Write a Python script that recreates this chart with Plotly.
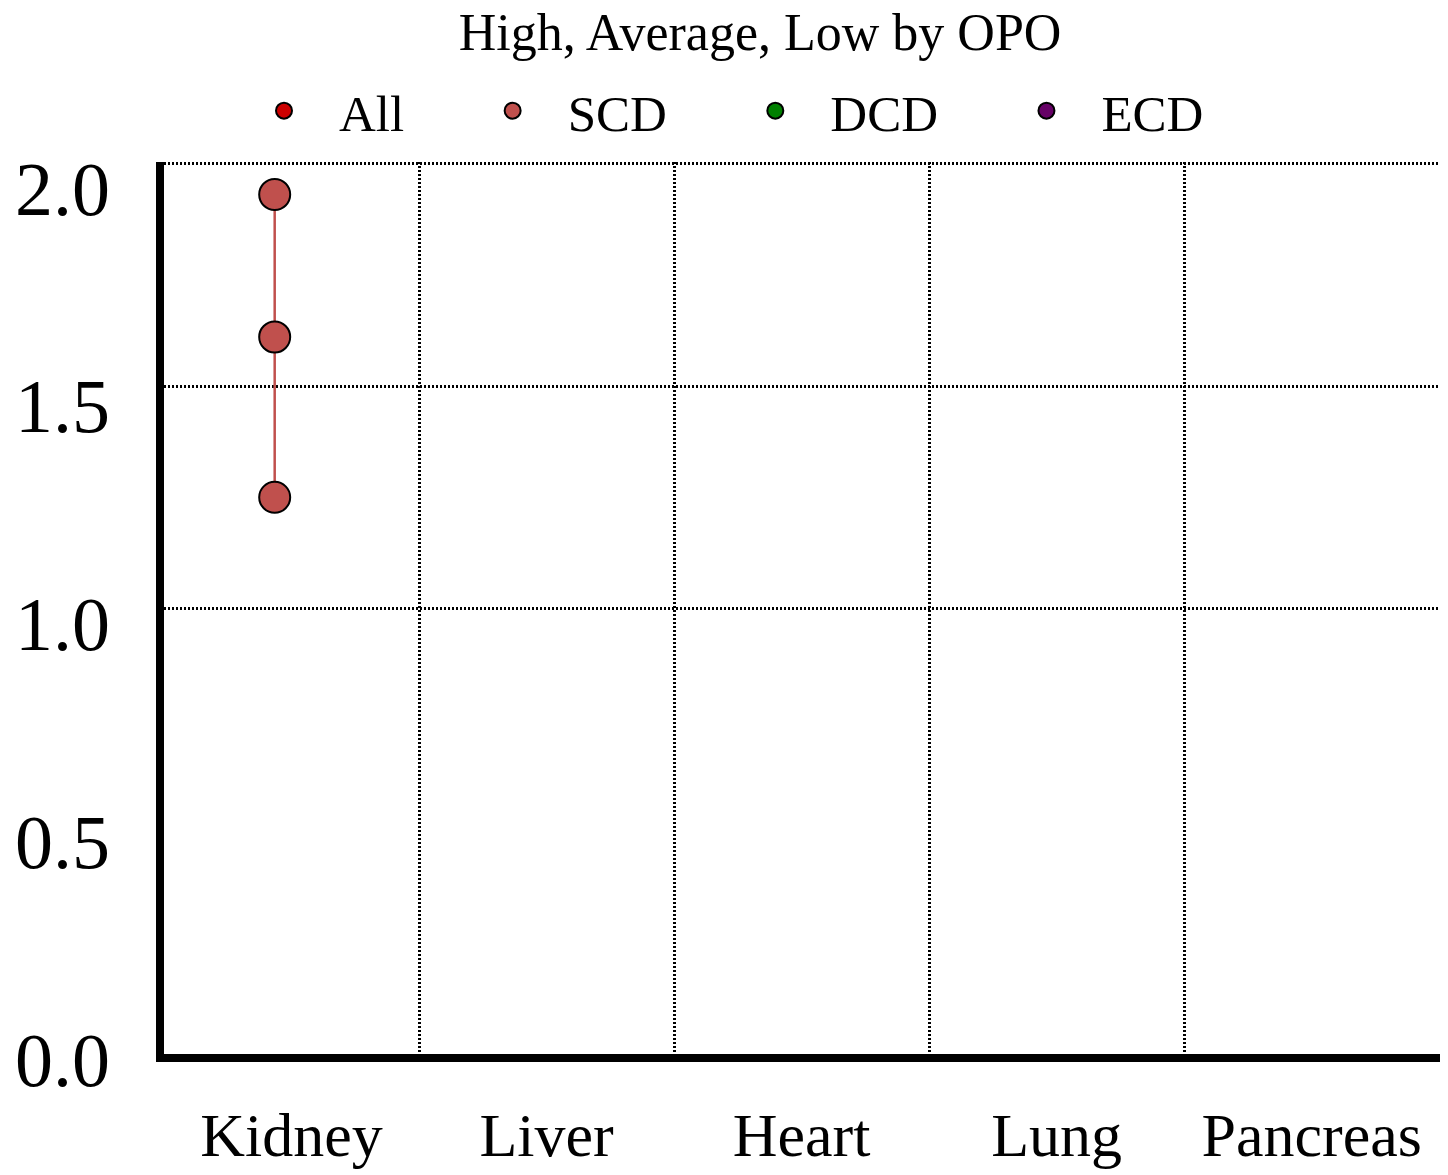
import plotly.graph_objects as go

# ---------------- data ----------------
CATEGORIES = ["Kidney", "Liver", "Heart", "Lung", "Pancreas"]
SERIES = ["All", "SCD", "DCD", "ECD"]

ALL_HIGH = [None, None, None, None, None]
ALL_AVG = [None, None, None, None, None]
ALL_LOW = [None, None, None, None, None]

SCD_HIGH = [1.93, None, None, None, None]
SCD_AVG = [1.61, None, None, None, None]
SCD_LOW = [1.25, None, None, None, None]

DCD_HIGH = [None, None, None, None, None]
DCD_AVG = [None, None, None, None, None]
DCD_LOW = [None, None, None, None, None]

ECD_HIGH = [None, None, None, None, None]
ECD_AVG = [None, None, None, None, None]
ECD_LOW = [None, None, None, None, None]

Y_TICKS = [0.0, 0.5, 1.0, 1.5, 2.0]
Y_GRID = [1.0, 1.5, 2.0]

# ---------------- styles ----------------
COLORS = {"All": "#CC0000", "SCD": "#C0504D", "DCD": "#008000", "ECD": "#660066"}
OFFSETS = {"All": -0.066, "SCD": -0.066, "DCD": -0.066, "ECD": -0.066}
LEGEND_PAD = "\u00a0" * 3 + "\u2009"
FONT = "Liberation Serif, Times New Roman, serif"

W, H = 1440, 1167          # page body has an 8px margin
M_L, M_R, M_T, M_B = 156, 8, 154, 121
PLOT_H = H - M_T - M_B
LABEL_SCALE = 435.5        # px per unit for the tick-label axis

series_data = {
    "All": (ALL_HIGH, ALL_AVG, ALL_LOW),
    "SCD": (SCD_HIGH, SCD_AVG, SCD_LOW),
    "DCD": (DCD_HIGH, DCD_AVG, DCD_LOW),
    "ECD": (ECD_HIGH, ECD_AVG, ECD_LOW),
}

fig = go.Figure()
for name in SERIES:
    hi, av, lo = series_data[name]
    xs, ys = [], []
    for i, _ in enumerate(CATEGORIES):
        if hi[i] is None and av[i] is None and lo[i] is None:
            continue
        for v in (hi[i], av[i], lo[i]):
            xs.append(i + OFFSETS[name])
            ys.append(v)
        xs.append(None)
        ys.append(None)
    if xs:
        fig.add_trace(go.Scatter(
            x=xs, y=ys, name=name, mode="lines+markers", legendgroup=name,
            line=dict(color=COLORS[name], width=2.5),
            marker=dict(size=31, color=COLORS[name], line=dict(color="black", width=2)),
            showlegend=False,
        ))
    # legend entry (marker only)
    fig.add_trace(go.Scatter(
        x=[None], y=[None], name=name + LEGEND_PAD, mode="markers", legendgroup=name,
        marker=dict(size=31, color=COLORS[name], line=dict(color="black", width=2)),
        showlegend=True,
    ))

# invisible trace to carry the label axis
fig.add_trace(go.Scatter(x=[None], y=[None], yaxis="y2", showlegend=False, hoverinfo="skip"))

fig.update_layout(
    width=W, height=H,
    margin=dict(l=M_L, r=M_R, t=M_T, b=M_B, autoexpand=False),
    paper_bgcolor="white", plot_bgcolor="white",
    font=dict(family=FONT, color="black"),
    title=dict(text="High, Average, Low by OPO", x=752 / W, xref="container",
               y=1 - 24 / H, yref="container", xanchor="center", yanchor="middle",
               font=dict(size=52, family=FONT, color="black")),
    legend=dict(orientation="h", x=735 / W, xref="container", xanchor="center",
                y=1 - 103 / H, yref="container", yanchor="middle",
                font=dict(size=51, family=FONT, color="black"),
                itemsizing="trace", itemwidth=100, bgcolor="rgba(0,0,0,0)"),
    showlegend=True,
    xaxis=dict(range=[-0.5, 4.503], tickmode="array", tickvals=list(range(len(CATEGORIES))),
               ticktext=CATEGORIES, showgrid=False, zeroline=False, automargin=False,
               showline=True, linecolor="black", linewidth=8,
               ticks="", ticklabelstandoff=20,
               tickfont=dict(size=62, family=FONT, color="black"),
               minor=dict(tickmode="array", tickvals=[i + 0.5 for i in range(len(CATEGORIES))],
                          showgrid=True, gridcolor="black", gridwidth=2.5, griddash="2px,2px",
                          ticks="")),
    yaxis=dict(range=[0, 2.003], tickmode="array", tickvals=Y_GRID, showticklabels=False,
               showgrid=True, gridcolor="black", gridwidth=2.5, griddash="2px,2px",
               automargin=False,
               zeroline=False, showline=True, linecolor="black", linewidth=8, ticks=""),
    yaxis2=dict(overlaying="y", anchor="x", side="left", range=[0, PLOT_H / LABEL_SCALE],
                tickmode="array", tickvals=Y_TICKS, ticktext=[f"{v:.1f}" for v in Y_TICKS],
                showgrid=False, zeroline=False, showline=False, ticks="", automargin=False,
                ticklabelstandoff=53, ticklabelshift=5,
                tickfont=dict(size=76, family=FONT, color="black")),
)

fig.write_html("out.html")
